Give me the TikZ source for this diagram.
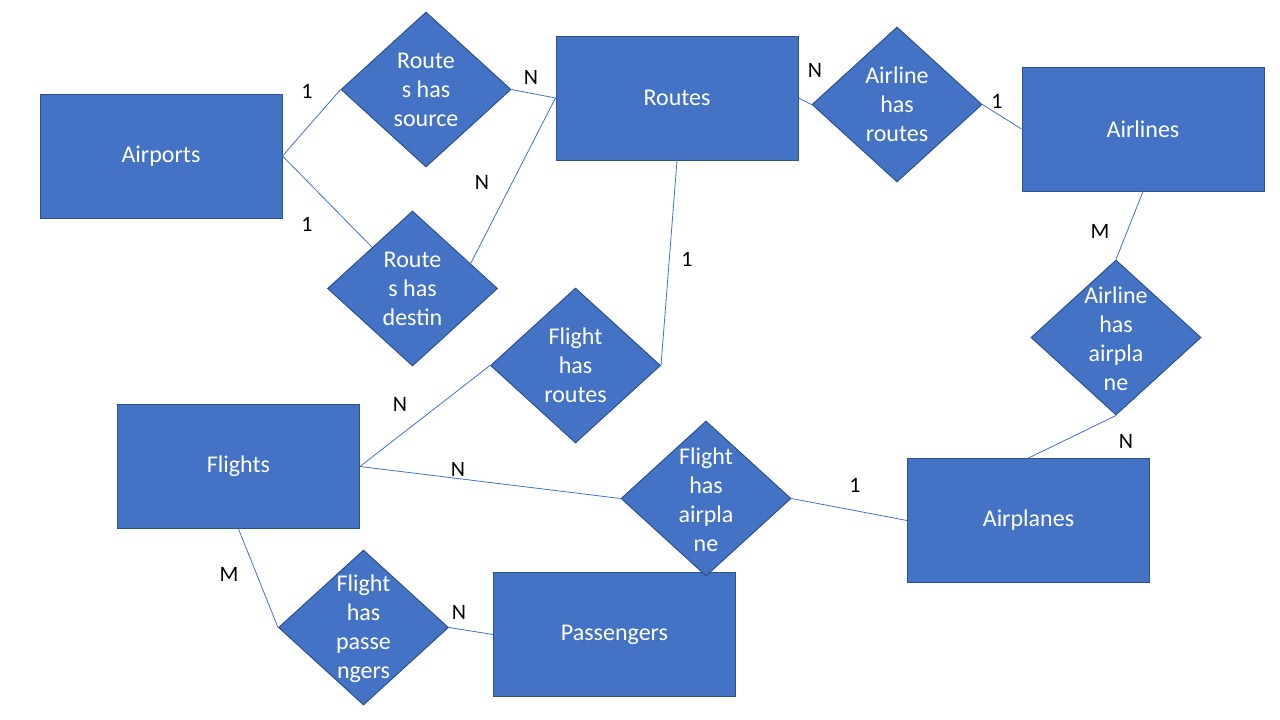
\documentclass[tikz,border=0pt]{standalone}
\usepackage{fontspec}
\setmainfont{Carlito}
\usetikzlibrary{shapes.geometric,calc}
\definecolor{boxfill}{HTML}{4472C4}
\definecolor{boxline}{HTML}{2F528F}
\tikzset{
  entity/.style={draw=boxline, fill=boxfill, line width=1pt, minimum width=242pt, minimum height=124pt, inner sep=0pt,
    text=white, font=\fontsize{24}{29}\selectfont},
  relation/.style={diamond, draw=boxline, fill=boxfill, line width=1pt, minimum width=170pt, minimum height=155pt, inner sep=0pt, aspect=1.1},
  reltext/.style={text=white, align=center, font=\fontsize{24}{29}\selectfont, inner sep=0pt},
  card/.style={text=black, font=\fontsize{22}{26}\selectfont, inner sep=0pt},
  conn/.style={draw=boxfill, line width=0.8pt}
}
\begin{document}
\begin{tikzpicture}[x=1pt,y=-1pt]
\useasboundingbox[fill=white] (0,0) rectangle (1280,720);
% entities
\node[entity] (AP) at (161,156) {Airports};
\node[entity] (RT) at (677,98) {Routes};
\node[entity] (AL) at (1143,129) {Airlines};
\node[entity] (FL) at (238.5,466.5) {Flights};
\node[entity] (APL) at (1028.5,520.5) {Airplanes};
\node[entity] (PS) at (614.5,634.5) {Passengers};
% relations
\node[relation] (RHS) at (426,89.5) {};
\node[reltext] (RHSt) at (RHS) {Route\\s has\\source};
\node[relation] (RHD) at (412.5,288.5) {};
\node[reltext] (RHDt) at (RHD) {Route\\s has\\destin};
\node[relation] (FHR) at (575.5,365.5) {};
\node[reltext] (FHRt) at (FHR) {Flight\\has\\routes};
\node[relation] (FHA) at (706,498.5) {};
\node[reltext] (FHAt) at ($(FHA)+(0,1)$) {Flight\\has\\airpla\\ne};
\node[relation] (FHP) at (363.5,627.5) {};
\node[reltext] (FHPt) at ($(FHP)+(0,1)$) {Flight\\has\\passe\\ngers};
\node[relation] (AHR) at (897,104.5) {};
\node[reltext] (AHRt) at (AHR) {Airline\\has\\routes};
\node[relation] (AHA) at (1116,337.5) {};
\node[reltext] (AHAt) at ($(AHA)+(0,1)$) {Airline\\has\\airpla\\ne};
% connectors
\draw[conn] (AP.east) -- (RHS.west);
\draw[conn] (AP.east) -- (RHD);
\draw[conn] (RHS.east) -- (RT.west);
\draw[conn] ($(RHD.north)!0.68!(RHD.east)$) -- (RT.west);
\draw[conn] (RT.south) -- (FHR.east);
\draw[conn] (FHR.west) -- (FL.east);
\draw[conn] (FL.east) -- (FHA.west);
\draw[conn] (FHA.east) -- (APL.west);
\draw[conn] (RT.east) -- (AHR.west);
\draw[conn] (AHR.east) -- (AL.west);
\draw[conn] (AL.south) -- (AHA.north);
\draw[conn] (AHA.south) -- (APL.north);
\draw[conn] (FL.south) -- (FHP.west);
\draw[conn] (FHP.east) -- (PS.west);
% cardinalities
\node[card] (c1) at (307,91) {1};
\node[card] (c2) at (531,77) {N};
\node[card] (c3) at (307,224) {1};
\node[card] (c4) at (482,182) {N};
\node[card] (c5) at (687,259) {1};
\node[card] (c6) at (815,70) {N};
\node[card] (c7) at (997,101) {1};
\node[card] (c8) at (1100,231) {M};
\node[card] (c9) at (1126,441) {N};
\node[card] (c10) at (855,485) {1};
\node[card] (c11) at (400,404) {N};
\node[card] (c12) at (458,469) {N};
\node[card] (c13) at (229,574) {M};
\node[card] (c14) at (459,612) {N};
\end{tikzpicture}
\end{document}
